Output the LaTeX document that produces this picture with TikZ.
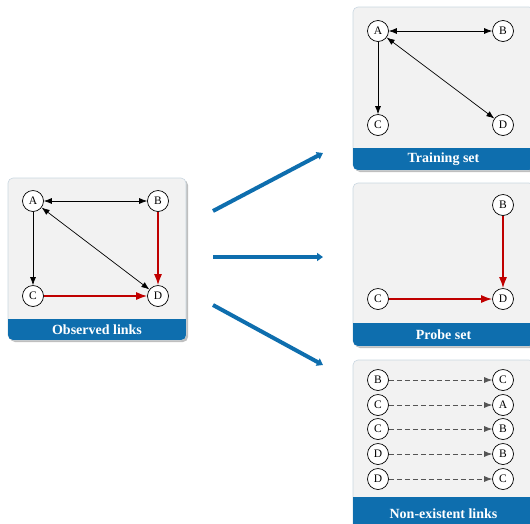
\documentclass[tikz,border=0pt]{standalone}
\usepackage{fontspec}
\setmainfont{Liberation Serif}
\usetikzlibrary{arrows.meta,shadows}
\definecolor{bandblue}{HTML}{0E6EAE}
\definecolor{panelgray}{HTML}{F2F2F2}
\definecolor{panelborder}{HTML}{C9D6E0}
\definecolor{linkred}{HTML}{C00000}
\definecolor{dashgray}{HTML}{555555}
\begin{document}
\begin{tikzpicture}[x=1pt,y=-1pt,
  vtx/.style={circle,draw=black,fill=white,line width=0.7pt,minimum size=21pt,inner sep=0pt,font=\fontsize{11.5}{11.5}\selectfont},
  blk/.style={draw=black,line width=0.7pt,-{Latex[length=8pt,width=6pt]}},
  blkboth/.style={draw=black,line width=0.7pt,{Latex[length=8pt,width=6pt]}-{Latex[length=8pt,width=6pt]}},
  red/.style={draw=linkred,line width=1.4pt,-{Latex[length=11pt,width=8pt]}},
  dsh/.style={draw=dashgray,line width=0.7pt,dash pattern=on 5pt off 3pt,-{Latex[length=8pt,width=6pt]}},
  big/.style={draw=bandblue,line width=4pt,-{Triangle[length=6pt,width=8pt]}},
  title/.style={text=white,font=\bfseries\fontsize{14}{14}\selectfont},
]
\useasboundingbox (0,0) rectangle (530,523);
\newcommand{\mypanel}[6]{%
  \fill[black!25,rounded corners=5pt] (#1+2,#2+2) rectangle (#3+2,#4+2);
  \filldraw[fill=panelgray,draw=panelborder,line width=0.6pt,rounded corners=5pt] (#1,#2) rectangle (#3,#4);
  \begin{scope}
    \clip[rounded corners=5pt] (#1,#2) rectangle (#3,#4);
    \fill[bandblue] (#1,#5) rectangle (#3,#4);
  \end{scope}
  \node[title] at ({(#1+#3)/2},{(#5+#4)/2}) {#6};
}
% left panel
\mypanel{8}{178}{186}{340}{319}{Observed links}
\node[vtx] (oA) at (33,201) {A};
\node[vtx] (oB) at (158,201) {B};
\node[vtx] (oC) at (33,296) {C};
\node[vtx] (oD) at (158,296) {D};
\draw[blkboth] (oA) -- (oB);
\draw[blk] (oA) -- (oC);
\draw[blkboth] (oA) -- (oD);
\draw[red] (oB) -- (oD);
\draw[red] (oC) -- (oD);
% training
\mypanel{353}{7}{534}{170}{148}{Training set}
\node[vtx] (tA) at (378,31) {A};
\node[vtx] (tB) at (503,31) {B};
\node[vtx] (tC) at (378,125) {C};
\node[vtx] (tD) at (503,125) {D};
\draw[blkboth] (tA) -- (tB);
\draw[blk] (tA) -- (tC);
\draw[blkboth] (tA) -- (tD);
% probe
\mypanel{353}{183}{534}{346}{323}{Probe set}
\node[vtx] (pB) at (503,205) {B};
\node[vtx] (pC) at (378,299) {C};
\node[vtx] (pD) at (503,299) {D};
\draw[red] (pB) -- (pD);
\draw[red] (pC) -- (pD);
% non-existent
\mypanel{353}{360}{534}{530}{497}{Non-existent links}
\node[vtx] (n1l) at (378,380) {B};
\node[vtx] (n1r) at (503,380) {C};
\node[vtx] (n2l) at (378,405) {C};
\node[vtx] (n2r) at (503,405) {A};
\node[vtx] (n3l) at (378,429) {C};
\node[vtx] (n3r) at (503,429) {B};
\node[vtx] (n4l) at (378,454) {D};
\node[vtx] (n4r) at (503,454) {B};
\node[vtx] (n5l) at (378,479) {D};
\node[vtx] (n5r) at (503,479) {C};
\foreach \i in {1,...,5} \draw[dsh] (n\i l) -- (n\i r);
% big arrows
\coordinate (s1) at (213,211); \coordinate (e1) at (323,153);
\coordinate (s2) at (213,257); \coordinate (e2) at (323,257);
\coordinate (s3) at (213,305); \coordinate (e3) at (323,365);
\draw[big] (s1) -- (e1);
\draw[big] (s2) -- (e2);
\draw[big] (s3) -- (e3);
\end{tikzpicture}
\end{document}
